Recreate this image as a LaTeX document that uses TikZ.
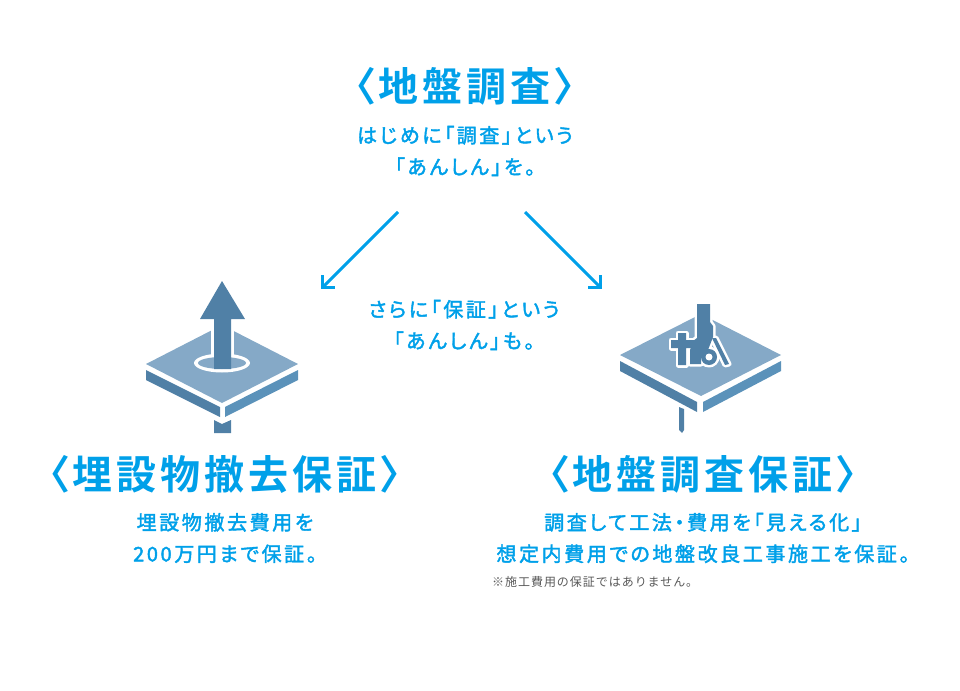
\documentclass[tikz,border=0pt]{standalone}
\usepackage{fontspec}
\setmainfont{Noto Sans CJK JP}
\newfontfamily\jptitle[LetterSpace=10,RawFeature=+palt]{Noto Sans CJK JP Bold}
\newfontfamily\jpbody[LetterSpace=13,RawFeature=+palt,FakeBold=2]{Noto Sans CJK JP}
\newfontfamily\jpnote[LetterSpace=8]{Noto Sans CJK JP}
\usetikzlibrary{positioning, arrows.meta}
\definecolor{skyblue}{HTML}{00A0E9}
\definecolor{platelight}{HTML}{85A9C7}
\definecolor{platedark}{HTML}{5080A6}
\definecolor{plateside}{HTML}{5B92BA}
\definecolor{notegray}{HTML}{595959}

\begin{document}
\begin{tikzpicture}[x=1pt,y=-1pt,node distance=15pt,
    title node/.style={inner sep=0pt,text=skyblue,font={\jptitle\fontsize{40}{40}\selectfont}},
    body node/.style={inner sep=0pt,text=skyblue,align=center,font={\jpbody\fontsize{20}{31.5}\selectfont}},
    note node/.style={inner sep=0pt,text=notegray,font={\jpnote\fontsize{12}{12}\selectfont}},
    flow arrow/.style={draw=skyblue,line width=3pt,-{Straight Barb[length=8.5pt,width=17pt,line width=3pt]}},
    top face/.style={fill=platelight},
    dark face/.style={fill=platedark},
    side face/.style={fill=plateside},
    halo/.style={draw=white,line width=5pt,line join=round}]
\useasboundingbox (0,0) rectangle (960,690);

\node[title node]             (survey)     at (465,86)  {〈地盤調査〉};
\node[body node]              (surveytxt)  at (465,151) {はじめに「調査」という\\「あんしん」を。};
\node[body node]              (middletxt)  at (464,325) {さらに「保証」という\\「あんしん」も。};
\node[title node]             (buried)     at (225,474) {〈埋設物撤去保証〉};
\node[body node]              (buriedtxt)  at (225,538) {埋設物撤去費用を\\200万円まで保証。};
\node[title node]             (ground)     at (703,474) {〈地盤調査保証〉};
\node[body node]              (groundtxt)  at (703,538) {調査して工法・費用を「見える化」\\想定内費用での地盤改良工事施工を保証。};
\node[note node,anchor=west]  (groundnote) at (492,582) {※施工費用の保証ではありません。};

\coordinate (leftstart)  at (398,212);
\coordinate (leftend)    at (321,289);
\coordinate (rightstart) at (525,212);
\coordinate (rightend)   at (602,289);
\draw[flow arrow] (leftstart) -- (leftend);
\draw[flow arrow] (rightstart) -- (rightend);

% left plate
\fill[top face]  (146,364) -- (222,325) -- (298,364) -- (222,403) -- cycle;
\fill[dark face] (146,370) -- (220,407) -- (220,417) -- (146,380) -- cycle;
\fill[side face] (225,407) -- (298,370) -- (298,380) -- (225,417) -- cycle;
\fill[dark face] (214,420) -- (222,424) -- (231,420) -- (231,433) -- (214,433) -- cycle;
\fill[white]     (211,325) rectangle (234,358);
\fill[white]     (222,363) ellipse [x radius=28,y radius=9.5];
\fill[top face]  (222,363) ellipse [x radius=24,y radius=6];
\fill[dark face] (214,369) -- (214,319) -- (200,319) -- (222,281) -- (245,319) -- (231,319) -- (231,369) -- cycle;

% right plate
\fill[top face]  (620,355) -- (701,314) -- (781,355) -- (701,396) -- cycle;
\fill[dark face] (620,361) -- (697,402) -- (697,412) -- (620,371) -- cycle;
\fill[side face] (703,402) -- (781,361) -- (781,371) -- (703,412) -- cycle;
\fill[dark face] (679,407) -- (684,409) -- (684,430) -- (682,433) -- (679,430) -- cycle;

% machine on the right plate
\foreach \look in {halo,dark face} {
  \path[\look] (697,304) -- (710,304) -- (710,322) -- (713,326) -- (713,337) -- (708,350) -- (701,358)
      -- (701,364) -- (690,364) -- (690,350) -- (693,341) -- (697,338) -- cycle;
  \path[\look] (678,333) -- (686,333) -- (686,340) -- (694,340) -- (694,348) -- (686,348) -- (686,365)
      -- (678,365) -- (678,348) -- (671,348) -- (671,340) -- (678,340) -- cycle;
  \path[\look] (712,338) -- (716,338) -- (729,364) -- (725,365) -- cycle;
  \path[\look] (709,357) circle [radius=8];
}
\fill[white] (709,357) circle [radius=3.5];
\end{tikzpicture}
\end{document}
